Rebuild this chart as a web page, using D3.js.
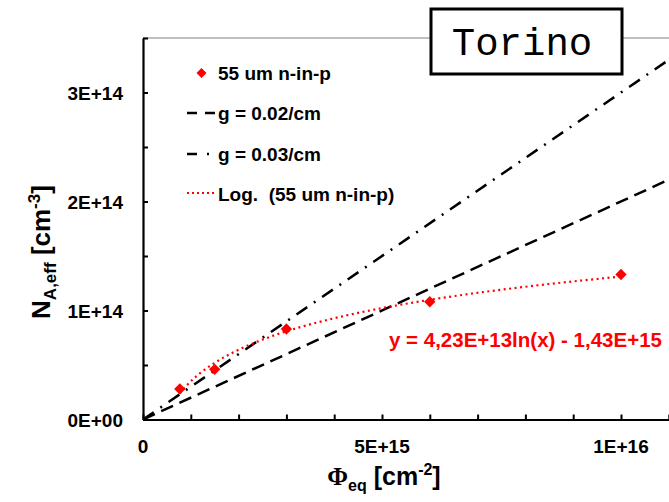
<!DOCTYPE html>
<html>
<head>
<meta charset="utf-8">
<script src="https://cdn.jsdelivr.net/npm/d3@7"></script>
<style>
    body { margin: 0; background: #fff; }
    svg { display: block; font-family: "Liberation Sans", Arial, sans-serif; font-weight: bold; }
</style>
</head>
<body>
<div id="holder"></div>
<script>
// measured points (fluence in cm^-2, N_A,eff in cm^-3)
const fluence = [7.7e14, 1.5e15, 3.0e15, 6.0e15, 1.0e16];
const nEff = [2.8e13, 4.6e13, 8.3e13, 1.08e14, 1.33e14];
const gValues = [0.02, 0.03];
const gLabels = ["g = 0.02/cm", "g = 0.03/cm"];
const xTickValues = [0, 5e15, 1e16];
const xTickLabels = ["0", "5E+15", "1E+16"];
const yTickValues = [0, 1e14, 2e14, 3e14];
const yTickLabels = ["0E+00", "1E+14", "2E+14", "3E+14"];
const seriesName = "55 um n-in-p";
const fitLabel = "y = 4,23E+13ln(x) - 1,43E+15";

const w = 669, h = 502;
const plotLeft = 143, plotBottom = 419.5, plotTop = 38;

const svg = d3.select('#holder')
    .append('svg')
    .attr('width', w)
    .attr('height', h);

const xScale = d3.scaleLinear()
    .domain([0, 1.2e16])
    .range([plotLeft, plotLeft + 12 * 47.8]);

const yScale = d3.scaleLinear()
    .domain([0, 3.5e14])
    .range([plotBottom, plotTop]);

// least squares log fit of the points, like the spreadsheet trendline
const lx = fluence.map(Math.log);
const mx = d3.mean(lx), my = d3.mean(nEff);
const slope = d3.sum(lx, (v, i) => (v - mx) * (nEff[i] - my)) / d3.sum(lx, v => (v - mx) * (v - mx));
const icpt = my - slope * mx;
const fitX = d3.range(0, 61).map(i => fluence[0] * Math.pow(fluence[4] / fluence[0], i / 60));

svg.append('defs').append('clipPath').attr('id', 'plot')
    .append('rect').attr('x', plotLeft).attr('y', plotTop).attr('width', w - plotLeft).attr('height', plotBottom - plotTop);

// plot area top border
svg.append('line')
    .attr('x1', plotLeft).attr('x2', w)
    .attr('y1', plotTop).attr('y2', plotTop)
    .attr('stroke', '#808080').attr('stroke-width', 1);

const plot = svg.append('g').attr('clip-path', 'url(#plot)');

const dashes = ["13,7", "13,8,2,8"];
plot.selectAll('.gline')
    .data(gValues)
    .enter()
    .append('line')
    .attr('class', 'gline')
    .attr('x1', xScale(0)).attr('y1', yScale(0))
    .attr('x2', xScale(1.2e16)).attr('y2', g => yScale(g * 1.2e16))
    .attr('stroke', '#000').attr('stroke-width', 2.5)
    .attr('stroke-dasharray', (g, i) => dashes[i]);

const line = d3.line()
    .x(d => xScale(d))
    .y(d => yScale(slope * Math.log(d) + icpt));

plot.append('path')
    .datum(fitX)
    .attr('d', line)
    .attr('fill', 'none')
    .attr('stroke', '#ff0000').attr('stroke-width', 2.2)
    .attr('stroke-dasharray', '2,3.5');

const diamond = d3.symbol().type(d3.symbolSquare).size(64);
plot.selectAll('.pt')
    .data(fluence)
    .enter()
    .append('path')
    .attr('class', 'pt')
    .attr('d', diamond)
    .attr('fill', '#ff0000')
    .attr('transform', (d, i) => `translate(${xScale(d)},${yScale(nEff[i])}) rotate(45)`);

// axes
const xAxis = d3.axisBottom(xScale)
    .tickValues(d3.range(0, 1.21e16, 1e15))
    .tickSize(-5).tickSizeOuter(0).tickFormat('');
const yAxis = d3.axisLeft(yScale)
    .tickValues(d3.range(0, 3.51e14, 5e13))
    .tickSize(-5).tickSizeOuter(0).tickFormat('');

svg.append('g').attr('transform', `translate(0,${plotBottom})`).call(xAxis)
    .call(g => g.selectAll('line').attr('stroke-width', 2))
    .call(g => g.select('.domain').attr('stroke-width', 2.2));
svg.append('g').attr('transform', `translate(${plotLeft},0)`).call(yAxis)
    .call(g => g.selectAll('line').attr('stroke-width', 2))
    .call(g => g.select('.domain').attr('stroke-width', 2.2));

svg.selectAll('.xlab')
    .data(xTickValues)
    .enter()
    .append('text')
    .attr('x', d => xScale(d))
    .attr('y', 453)
    .attr('text-anchor', 'middle')
    .style('font-size', '19px')
    .text((d, i) => xTickLabels[i]);

svg.selectAll('.ylab')
    .data(yTickValues)
    .enter()
    .append('text')
    .attr('x', 123)
    .attr('y', d => yScale(d) + 7)
    .attr('text-anchor', 'end')
    .style('font-size', '19px')
    .text((d, i) => yTickLabels[i]);

// axis titles
const xt = svg.append('text')
    .attr('x', 384).attr('y', 485)
    .attr('text-anchor', 'middle')
    .style('font-size', '25px');
xt.append('tspan').style('font-family', '"Liberation Serif", serif').text('Φ');
xt.append('tspan').attr('dy', 6).style('font-size', '16px').text('eq');
xt.append('tspan').attr('dy', -6).text(' [cm');
xt.append('tspan').attr('dy', -10).style('font-size', '16px').text('-2');
xt.append('tspan').attr('dy', 10).text(']');

const yt = svg.append('text')
    .attr('transform', 'translate(50,252) rotate(-90)')
    .attr('text-anchor', 'middle')
    .style('font-size', '26px');
yt.append('tspan').text('N');
yt.append('tspan').attr('dy', 6).style('font-size', '17px').text('A,eff');
yt.append('tspan').attr('dy', -6).text(' [cm');
yt.append('tspan').attr('dy', -10).style('font-size', '17px').text('-3');
yt.append('tspan').attr('dy', 10).text(']');

// legend
const legend = svg.append('g');
legend.append('path')
    .attr('d', d3.symbol().type(d3.symbolSquare).size(50))
    .attr('fill', '#ff0000')
    .attr('transform', 'translate(201.5,73) rotate(45)');
legend.selectAll('.gl')
    .data(gValues)
    .enter()
    .append('line')
    .attr('x1', 187).attr('x2', 217)
    .attr('y1', (d, i) => 113 + i * 41).attr('y2', (d, i) => 113 + i * 41)
    .attr('stroke', '#000').attr('stroke-width', 2.5)
    .attr('stroke-dasharray', (d, i) => i === 0 ? '10,8' : '10,10,2,8');
legend.append('line')
    .attr('x1', 187).attr('x2', 217)
    .attr('y1', 193).attr('y2', 193)
    .attr('stroke', '#ff0000').attr('stroke-width', 2.2)
    .attr('stroke-dasharray', '2,3');
const legendTexts = [seriesName].concat(gLabels, ["Log.  (" + seriesName + ")"]);
legend.selectAll('.lt')
    .data(legendTexts)
    .enter()
    .append('text')
    .attr('x', 218)
    .attr('y', (d, i) => [80, 120, 161, 201][i])
    .style('font-size', '19px')
    .style('white-space', 'pre')
    .text(d => d);

// fit equation
svg.append('text')
    .attr('x', 389).attr('y', 347)
    .attr('fill', '#ff0000')
    .style('font-size', '20.5px')
    .text(fitLabel);

// title box
svg.append('rect')
    .attr('x', 431).attr('y', 9)
    .attr('width', 191).attr('height', 65)
    .attr('fill', '#fff').attr('stroke', '#000').attr('stroke-width', 3);
svg.append('text')
    .attr('x', 522).attr('y', 55)
    .attr('text-anchor', 'middle')
    .style('font-family', '"Liberation Mono", "Courier New", monospace')
    .style('font-weight', 'normal')
    .style('font-size', '39px')
    .text('Torino');
</script>
</body>
</html>
